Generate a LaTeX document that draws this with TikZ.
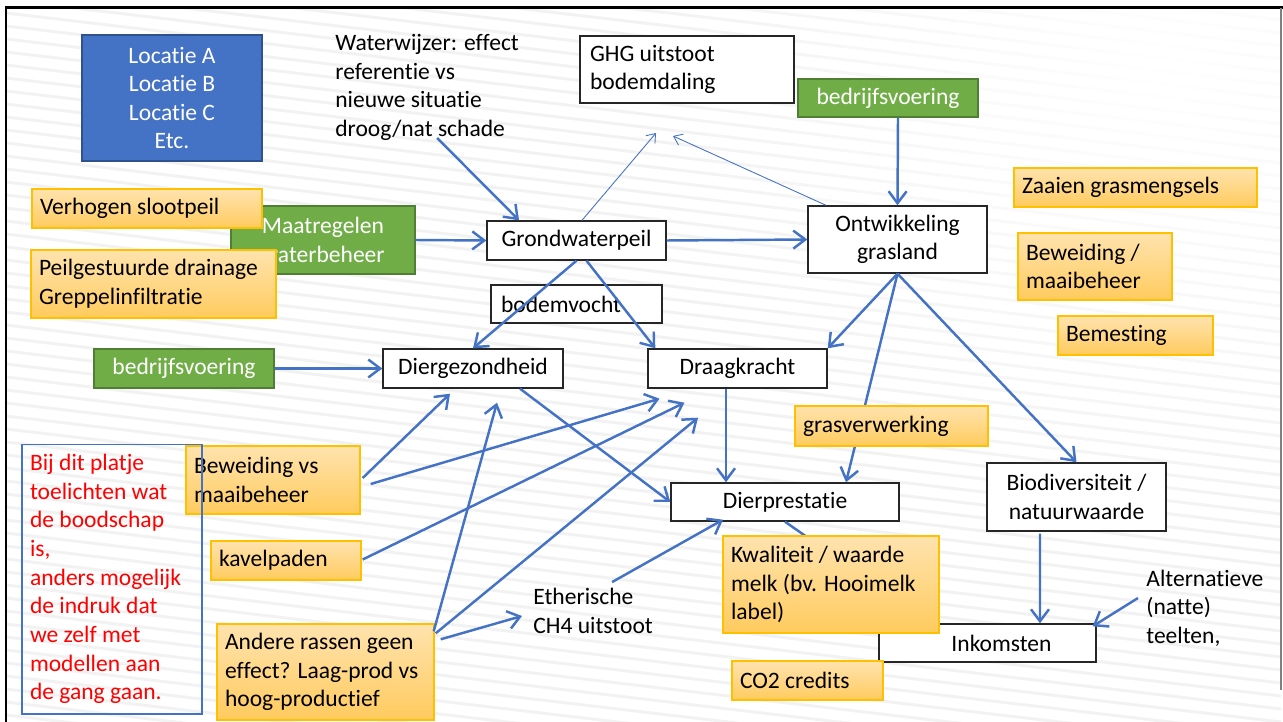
\documentclass[tikz,border=0pt]{standalone}
\usepackage{fontspec}
\setmainfont{Carlito}[Ligatures=NoCommon, RawFeature=-liga, RawFeature=-clig, RawFeature=-calt, RawFeature=-dlig]
\usetikzlibrary{arrows.meta, positioning, fadings}
\definecolor{pblauw}{HTML}{4472C4}
\definecolor{blauwrand}{HTML}{2F528F}
\definecolor{pgroen}{HTML}{70AD47}
\definecolor{groenrand}{HTML}{507E32}
\definecolor{oranjerand}{HTML}{FFC000}
\definecolor{oranjelicht}{HTML}{FFE3AE}
\definecolor{oranjedonker}{HTML}{FFCB5E}
\definecolor{rood}{HTML}{FF0000}
\tikzfading[name=hoekvervaging, inner color=transparent!0, outer color=transparent!100]
\tikzset{
  % witte kader (modelgrootheid)
  wit/.style={draw=black!85, line width=0.8pt, fill=white, inner xsep=0.2cm,
    inner ysep=0pt, align=center},
  % groene kader (sturing)
  groen/.style={draw=groenrand, line width=0.8pt, fill=pgroen, text=white,
    inner sep=0pt, align=center},
  % blauwe kader
  blauw/.style={draw=blauwrand, line width=0.8pt, fill=pblauw, text=white,
    inner sep=0pt, align=center},
  % oranje kader (maatregel)
  oranje/.style={draw=oranjerand, line width=0.8pt, top color=oranjelicht,
    bottom color=oranjedonker, inner xsep=0.16cm, inner ysep=0pt, align=flush left},
  % losse tekst
  los/.style={inner sep=0pt, align=flush left},
  % pijlen
  pijl/.style={-{Straight Barb[length=2.4mm, width=3.6mm]}, line width=1.4pt, pblauw},
  dunpijl/.style={-{Straight Barb[length=1.6mm, width=2.4mm]}, line width=0.5pt, pblauw},
  streep/.style={line width=1.7pt, gray!10},
}
\begin{document}
\begin{tikzpicture}[x=0.02cm, y=-0.02cm,
  every node/.style={font=\fontsize{13.4}{16.3}\selectfont}]
  \useasboundingbox (0,0) rectangle (1283,722);
  % achtergrond
  \begin{scope}
    \clip (6,8) rectangle (1281,722);
    \foreach \k in {-12,...,56}
      \draw[streep] (6,\k*13) -- (1281,\k*13+150);
    \fill[white, path fading=hoekvervaging] (620,-420) rectangle (1700,560);
  \end{scope}
  \draw[line width=1.7pt] (6,722) -- (6,8) -- (1283,8);
  \draw[gray, line width=0.6pt] (1281,8) -- (1281,690);

  % bovenste rij
  \node[blauw, minimum width=3.6cm, minimum height=2.52cm] (loc) at (172,98)
    {Locatie A\\Locatie B\\Locatie C\\Etc.};
  \node[los, anchor=west] (ww) at (335,87.5)
    {Waterwijzer: effect\\referentie vs\\nieuwe situatie\\droog/nat schade};
  \node[wit, align=flush left, minimum width=4.28cm, minimum height=1.34cm, text width=3.88cm] (ghg)
    at (687,69.5) {GHG uitstoot\\bodemdaling};
  \node[groen, minimum width=3.6cm, minimum height=0.76cm] (bedr1) at (888,98) {bedrijfsvoering};
  \coordinate (ghgA) at (656,133);
  \coordinate (ghgB) at (673,136);

  % rechter maatregelen
  \node[oranje, minimum width=4.86cm, minimum height=0.78cm, text width=4.54cm] (zaai)
    at (1135.5,187.5) {Zaaien grasmengsels};
  \node[oranje, minimum width=3.08cm, minimum height=1.34cm, text width=2.76cm] (bew2)
    at (1095,266.5) {Beweiding /\\maaibeheer};
  \node[oranje, minimum width=3.1cm, minimum height=0.78cm, text width=2.78cm] (bem)
    at (1135.5,335.5) {Bemesting};

  % waterbeheer
  \node[groen, minimum width=3.68cm, minimum height=1.36cm] (maat) at (323,240)
    {Maatregelen\\waterbeheer};
  \node[oranje, minimum width=4.6cm, minimum height=0.78cm, text width=4.28cm] (verh)
    at (147,208.5) {Verhogen slootpeil};
  \node[oranje, minimum width=4.9cm, minimum height=1.36cm, text width=4.58cm] (peil)
    at (153.5,284) {Peilgestuurde drainage\\Greppelinfiltratie};

  % kern van het schema
  \node[wit, minimum width=3.58cm, minimum height=0.78cm] (gwp) at (576.5,240.5) {Grondwaterpeil};
  \node[wit, minimum width=3.58cm, minimum height=1.34cm] (ontw) at (897.5,239.5)
    {Ontwikkeling\\grasland};
  \node[wit, align=flush left, minimum width=3.42cm, minimum height=0.76cm, text width=3.02cm] (bodem)
    at (576.5,304) {bodemvocht};
  \node[groen, minimum width=3.6cm, minimum height=0.78cm] (bedr2) at (184,368.5) {bedrijfsvoering};
  \node[wit, minimum width=3.6cm, minimum height=0.78cm] (dierg) at (473,368.5) {Diergezondheid};
  \node[wit, minimum width=3.58cm, minimum height=0.78cm] (draag) at (737.5,368.5) {Draagkracht};
  \node[oranje, minimum width=3.48cm, minimum height=1.36cm, text width=3.16cm] (bew1)
    at (273,480) {Beweiding vs\\maaibeheer};
  \node[wit, minimum width=4.56cm, minimum height=0.76cm] (dierp) at (785,502) {Dierprestatie};
  \node[wit, minimum width=3.58cm, minimum height=1.36cm] (bio) at (1076.5,497)
    {Biodiversiteit /\\natuurwaarde};
  \node[oranje, minimum width=3cm, minimum height=0.78cm, text width=2.68cm] (kavel)
    at (286,560.5) {kavelpaden};
  \node[wit, minimum width=4.34cm, minimum height=0.76cm] (inkom) at (987.5,643)
    {\hspace*{0.56cm}Inkomsten};
  \node[los, anchor=west] (eth) at (533,611) {Etherische\\CH4 uitstoot};
  \node[los, anchor=west] (alt) at (1146,608) {Alternatieve\\(natte)\\teelten,};
  \node[oranje, minimum width=4.34cm, minimum height=1.92cm, text width=4.02cm] (ander)
    at (325.5,672) {Andere rassen geen\\effect? Laag-prod vs\\hoog-productief};

  % pijlen
  \draw[pijl] ([shift={(10,-3)}]ww.south) -- ([shift={(-57.5,0)}]gwp.north);
  \draw[pijl] (maat.east) -- (gwp.west);
  \draw[pijl] (gwp.east) -- (ontw.west);
  \draw[pijl] ([shift={(10,0)}]bedr1.south) -- (ontw.north);
  \draw[dunpijl] ([shift={(5.5,0)}]gwp.north) -- (ghgA);
  \draw[dunpijl] ([shift={(-71.5,0)}]ontw.north) -- (ghgB);
  \draw[pijl] (gwp.south) -- (dierg.north);
  \draw[pijl] ([shift={(10,0)}]gwp.south) -- ([shift={(8,0)}]draag.north west);
  \draw[pijl] (ontw.south) -- (draag.north east);
  \draw[pijl] (ontw.south) -- ([shift={(61,0)}]dierp.north);
  \draw[pijl] (ontw.south) -- (bio.north);
  \draw[pijl] (bedr2.east) -- (dierg.west);
  \draw[pijl] ([shift={(-11.5,0)}]draag.south) -- ([shift={(-59,0)}]dierp.north);
  \draw[pijl] ([shift={(47,0)}]dierg.south) -- (dierp.west);
  \draw[pijl] ([shift={(2,-2)}]bew1.east) -- ([shift={(-23,5)}]dierg.south);
  \draw[pijl] ([shift={(10,4)}]bew1.east) -- ([shift={(-78,10)}]draag.south);
  \draw[pijl] ([shift={(1,-1)}]kavel.east) -- ([shift={(-53,14)}]draag.south);
  \draw[pijl] ([shift={(-1,8)}]ander.north east) -- ([shift={(24,14)}]dierg.south);
  \draw[pijl] ([shift={(1,10)}]ander.north east) -- ([shift={(-39.5,29)}]draag.south);
  \draw[pijl] ([shift={(6,16)}]ander.north east) -- ([shift={(-11,5)}]eth.west);
  \draw[pijl] ([shift={(19,-6)}]eth.north) -- ([shift={(-62,-2)}]dierp.south);
  \draw[pijl] (dierp.south) -- ([shift={(-57,0)}]inkom.north);
  \draw[pijl] ([shift={(-36.5,2)}]bio.south) -- ([shift={(52.5,0)}]inkom.north);
  \draw[pijl] ([shift={(-8,-10)}]alt.west) -- ([shift={(-4,3)}]inkom.north east);

  % kaders boven de pijlen
  \node[oranje, minimum width=3.86cm, minimum height=0.8cm, text width=3.54cm] (grasv)
    at (891.5,426) {grasverwerking};
  \node[oranje, minimum width=4.32cm, minimum height=1.94cm, text width=4cm] (kwal)
    at (831,584.5) {Kwaliteit / waarde\\melk (bv. Hooimelk\\label)};
  \node[oranje, minimum width=3.02cm, minimum height=0.78cm, text width=2.7cm] (co2)
    at (807.5,680.5) {CO2 credits};
  \node[draw=pblauw, line width=0.6pt, inner xsep=0.16cm, inner ysep=0pt, align=flush left,
    text=rood, minimum width=3.6cm, minimum height=5.4cm, text width=3.28cm] (uitleg)
    at (112,579) {Bij dit platje\\toelichten wat\\de boodschap\\is,\\anders mogelijk\\de indruk dat\\we zelf met\\modellen aan\\de gang gaan.};
\end{tikzpicture}
\end{document}
